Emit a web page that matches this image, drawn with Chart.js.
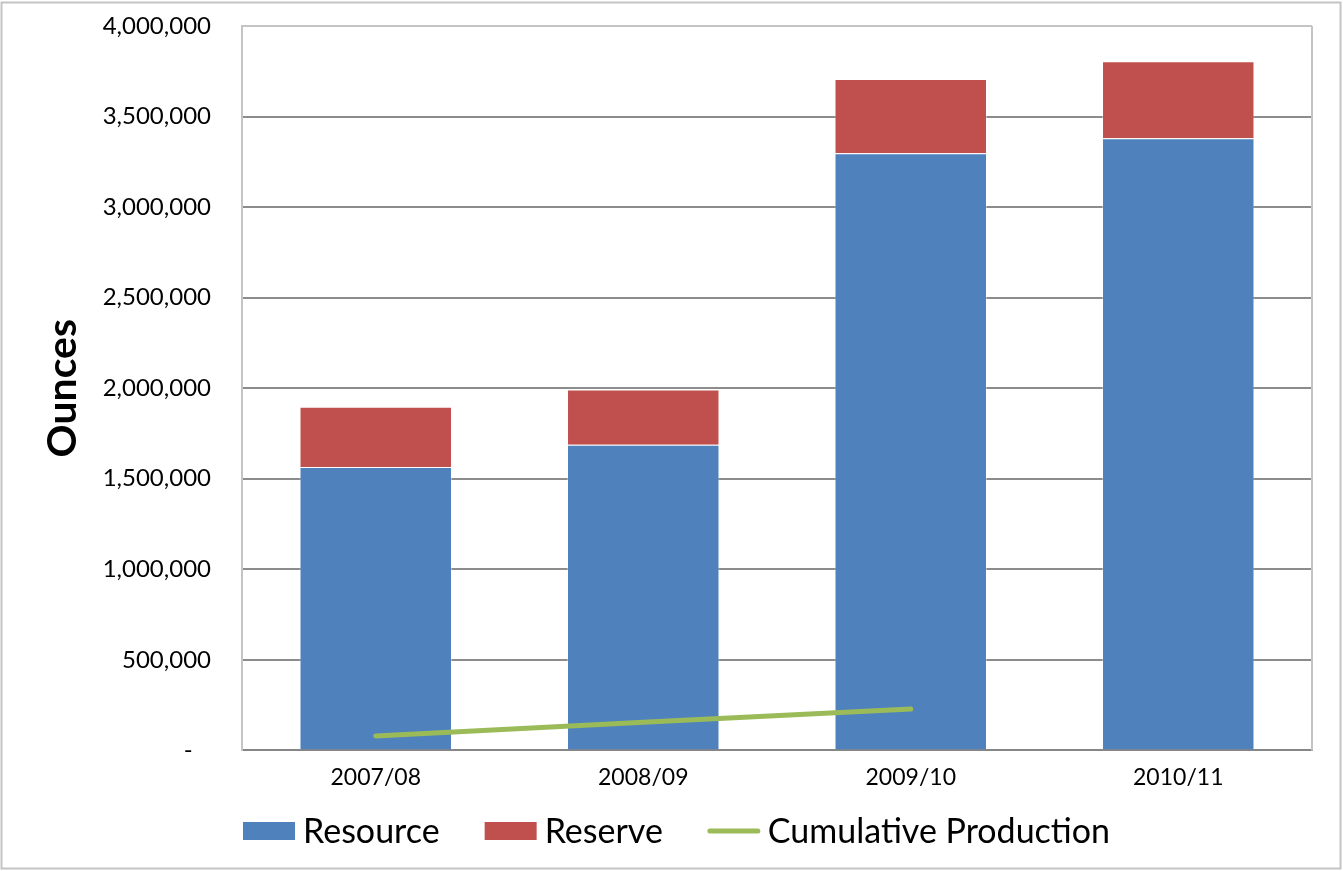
<!DOCTYPE html>
<html>
<head>
<meta charset="utf-8">
<script src="https://cdn.jsdelivr.net/npm/chart.js@4/dist/chart.umd.min.js"></script>
<style>
  html, body { margin: 0; padding: 0; background: #ffffff; }
  #wrap { width: 1343px; height: 871px; }
</style>
</head>
<body>
<div id="wrap"><canvas id="c" width="1343" height="871"></canvas></div>
<script>
// Gold inventory by fiscal year (ounces)
const categories = ['2007/08', '2008/09', '2009/10', '2010/11'];
const resource = [1565000, 1688000, 3297000, 3380000];
const reserve = [333000, 305000, 410000, 425000];
const cumulativeProduction = [80000, 155000, 228000, null];
const yTicks = [0, 500000, 1000000, 1500000, 2000000, 2500000, 3000000, 3500000, 4000000];

const FONT = 'Lato, "Open Sans", sans-serif';
const BLUE = '#4F81BD', RED = '#C0504D', GREEN = '#9BBB59';

// Frame around the whole chart and the right edge of the plot area
const framePlugin = {
  id: 'frame',
  afterDraw(chart) {
    const { ctx, chartArea } = chart;
    ctx.save();
    ctx.strokeStyle = '#c4c4c4';
    ctx.lineWidth = 2;
    ctx.strokeRect(1.5, 2.5, 1339, 866);
    ctx.beginPath();
    ctx.moveTo(chartArea.right, chartArea.top);
    ctx.lineTo(chartArea.right, chartArea.bottom);
    ctx.stroke();
    ctx.restore();
  }
};

// Legend row under the category axis: wide swatches, tight swatch-to-text gap
const legendRowPlugin = {
  id: 'legendRow',
  afterDraw(chart) {
    const { ctx } = chart;
    const ds = chart.data.datasets;
    const order = [1, 2, 0];
    const swW = 52, swH = 18, swGap = 8, itemGap = 45;
    const y = 832;
    ctx.save();
    ctx.font = '34px ' + FONT;
    ctx.textBaseline = 'middle';
    ctx.textAlign = 'left';
    const widths = order.map(i => ctx.measureText(ds[i].label).width);
    const total = widths.reduce((a, w) => a + swW + swGap + w, 0) + itemGap * (order.length - 1);
    let x = chart.width / 2 + 5 - total / 2;
    order.forEach((i, k) => {
      const d = ds[i];
      if (d.type === 'line') {
        ctx.strokeStyle = d.borderColor;
        ctx.lineWidth = 5;
        ctx.lineCap = 'round';
        ctx.beginPath();
        ctx.moveTo(x + 2, y - 1);
        ctx.lineTo(x + swW - 2, y - 1);
        ctx.stroke();
      } else {
        ctx.fillStyle = d.backgroundColor;
        ctx.fillRect(x, y - swH / 2 - 1, swW, swH);
      }
      ctx.fillStyle = '#000000';
      ctx.fillText(d.label, x + swW + swGap, y);
      x += swW + swGap + widths[k] + itemGap;
    });
    ctx.restore();
  }
};

new Chart(document.getElementById('c'), {
  type: 'bar',
  data: {
    labels: categories,
    datasets: [
      {
        type: 'line',
        label: 'Cumulative Production',
        data: cumulativeProduction,
        borderColor: GREEN,
        backgroundColor: GREEN,
        borderWidth: 5,
        borderCapStyle: 'round',
        pointRadius: 0,
        pointHoverRadius: 0,
        tension: 0,
        spanGaps: false
      },
      {
        label: 'Resource',
        data: resource,
        backgroundColor: BLUE,
        borderColor: 'rgba(255,255,255,0.35)',
        borderWidth: 1,
        stack: 'total'
      },
      {
        label: 'Reserve',
        data: reserve,
        backgroundColor: RED,
        borderColor: 'rgba(255,255,255,0.35)',
        borderWidth: 1,
        stack: 'total'
      }
    ]
  },
  options: {
    responsive: false,
    animation: false,
    devicePixelRatio: 1,
    layout: { padding: { left: 4, top: 26, right: 31, bottom: 67 } },
    datasets: { bar: { barPercentage: 0.57, categoryPercentage: 1.0 } },
    plugins: {
      tooltip: { enabled: false },
      legend: { display: false }
    },
    scales: {
      x: {
        stacked: true,
        grid: { display: false, drawTicks: false },
        border: { color: '#868686', width: 2 },
        ticks: { font: { family: FONT, size: 23 }, color: '#000000', padding: 13 }
      },
      y: {
        stacked: true,
        min: 0,
        max: 4000000,
        afterFit(scale) {
          scale.width = 238;
          scale.paddingTop = 14;
          scale.paddingBottom = 14;
        },
        afterBuildTicks(scale) { scale.ticks = yTicks.map(v => ({ value: v })); },
        grid: {
          drawTicks: false,
          lineWidth: 2,
          color: ctx => (ctx.tick && ctx.tick.value === 4000000) ? '#c4c4c4' : '#8c8c8c'
        },
        border: { color: '#c4c4c4', width: 2 },
        ticks: {
          font: { family: FONT, size: 24 },
          color: '#000000',
          padding: 31,
          callback: v => v === 0 ? '-   ' : v.toLocaleString('en-US')
        },
        title: {
          display: true,
          text: 'Ounces',
          font: { family: FONT, size: 41, weight: 'bold' },
          color: '#000000',
          padding: { top: 34, bottom: 0 }
        }
      }
    }
  },
  plugins: [framePlugin, legendRowPlugin]
});
</script>
</body>
</html>
